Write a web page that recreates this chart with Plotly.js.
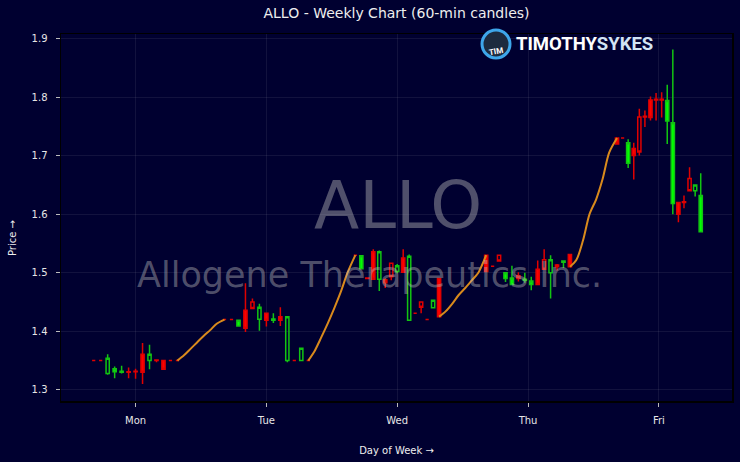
<!DOCTYPE html>
<html><head><meta charset="utf-8">
<script src="https://cdn.plot.ly/plotly-3.0.1.min.js"></script>
<style>html,body{margin:0;padding:0;background:#000030;}#chart{width:740px;height:462px;}</style>
</head><body><div id="chart"></div>
<script>
const days = ['Mon', 'Tue', 'Wed', 'Thu', 'Fri'];

const monOpen  = [1.350,1.350,1.328,1.331,1.330,1.331,1.332,1.361,1.350,1.351,1.350,1.350,1.350];
const monHigh  = [1.350,1.350,1.361,1.340,1.341,1.338,1.336,1.380,1.377,1.351,1.350,1.350,1.350];
const monLow   = [1.350,1.350,1.326,1.320,1.328,1.320,1.319,1.310,1.335,1.347,1.335,1.350,1.350];
const monClose = [1.350,1.350,1.354,1.336,1.332,1.330,1.331,1.330,1.361,1.350,1.335,1.350,1.350];

const tueOpen  = [1.420,1.420,1.409,1.436,1.450,1.4205,1.431,1.419,1.425,1.350,1.350,1.350,1.350];
const tueHigh  = [1.420,1.420,1.420,1.482,1.456,1.447,1.431,1.431,1.441,1.425,1.350,1.371,1.350];
const tueLow   = [1.420,1.420,1.409,1.399,1.439,1.401,1.408,1.414,1.409,1.347,1.350,1.350,1.350];
const tueClose = [1.420,1.420,1.419,1.405,1.439,1.441,1.419,1.421,1.419,1.425,1.350,1.371,1.350];

const wedOpen  = [1.530,1.507,1.491,1.536,1.489,1.488,1.516,1.502,1.525,1.419,1.431,1.450,1.420,1.440,1.490];
const wedHigh  = [1.530,1.530,1.491,1.540,1.538,1.490,1.516,1.515,1.540,1.531,1.431,1.450,1.420,1.453,1.490];
const wedLow   = [1.530,1.507,1.489,1.489,1.469,1.474,1.487,1.499,1.501,1.419,1.431,1.431,1.420,1.440,1.425];
const wedClose = [1.530,1.529,1.490,1.489,1.536,1.483,1.493,1.512,1.501,1.528,1.431,1.441,1.420,1.453,1.425];

const thuOpen  = [1.530,1.511,1.530,1.490,1.480,1.495,1.487,1.480,1.506,1.522,1.500,1.513,1.518,1.531];
const thuHigh  = [1.530,1.511,1.530,1.501,1.512,1.501,1.500,1.493,1.521,1.540,1.530,1.515,1.521,1.531];
const thuLow   = [1.502,1.511,1.520,1.484,1.479,1.485,1.483,1.470,1.480,1.506,1.456,1.504,1.508,1.510];
const thuClose = [1.502,1.511,1.520,1.500,1.491,1.490,1.489,1.486,1.480,1.506,1.522,1.510,1.520,1.510];

const friOpen  = [1.730,1.730,1.687,1.712,1.766,1.767,1.795,1.796,1.796,1.759,1.618,1.620,1.621,1.661,1.640,1.570];
const friHigh  = [1.730,1.730,1.728,1.722,1.780,1.777,1.801,1.807,1.808,1.821,1.881,1.620,1.632,1.680,1.650,1.670];
const friLow   = [1.720,1.730,1.679,1.659,1.700,1.749,1.760,1.760,1.765,1.720,1.600,1.586,1.610,1.640,1.630,1.570];
const friClose = [1.720,1.730,1.722,1.700,1.706,1.766,1.765,1.795,1.795,1.794,1.756,1.600,1.620,1.640,1.650,1.632];

// overnight (off-session) path, day-fraction offsets from each day tick
const overnightX = [0.32, 0.37, 0.42, 0.47, 0.52, 0.57, 0.62, 0.68];
const overnightMonTue = [1.350, 1.359, 1.370, 1.381, 1.392, 1.402, 1.413, 1.420];
const overnightTueWed = [1.350, 1.367, 1.390, 1.414, 1.440, 1.468, 1.500, 1.530];
const overnightWedThu = [1.425, 1.434, 1.447, 1.462, 1.474, 1.487, 1.500, 1.530];
const overnightThuFri = [1.510, 1.522, 1.555, 1.600, 1.625, 1.660, 1.705, 1.730];

const sessions = [
  [monOpen, monHigh, monLow, monClose],
  [tueOpen, tueHigh, tueLow, tueClose],
  [wedOpen, wedHigh, wedLow, wedClose],
  [thuOpen, thuHigh, thuLow, thuClose],
  [friOpen, friHigh, friLow, friClose]
];
const overnights = [overnightMonTue, overnightTueWed, overnightWedThu, overnightThuFri];

// groups: green/red by close vs open, hollow/filled by close vs previous close
const groups = {gh: mk(), gf: mk(), rh: mk(), rf: mk()};
function mk() { return {x: [], o: [], h: [], l: [], c: []}; }
sessions.forEach((s, d) => {
  const [O, H, L, C] = s;
  const n = O.length;
  for (let i = 0; i < n; i++) {
    const x = d - 0.32 + 0.64 * i / (n - 1);
    let prev;
    if (i > 0) prev = C[i - 1];
    else if (d > 0) prev = overnights[d - 1][overnights[d - 1].length - 1];
    else prev = O[i];
    const col = C[i] > O[i] ? 'g' : 'r';
    const fill = C[i] > prev ? 'h' : 'f';
    const g = groups[col + fill];
    g.x.push(x); g.o.push(O[i]); g.h.push(H[i]); g.l.push(L[i]); g.c.push(C[i]);
  }
});

const GREEN_LINE = '#12c412', GREEN_FILL = '#00ff00';
const RED_LINE = '#e00000', RED_FILL = '#ff0000';
const NONE = 'rgba(0,0,0,0)';

const traces = [];
overnights.forEach((ov, d) => {
  traces.push({
    type: 'scatter', mode: 'lines',
    x: overnightX.map(v => d + v), y: ov,
    line: {color: '#d98a1c', width: 2, shape: 'spline', smoothing: 0.8},
    hoverinfo: 'skip', showlegend: false
  });
});
function cs(g, line, fill) {
  return {
    type: 'candlestick', x: g.x, open: g.o, high: g.h, low: g.l, close: g.c,
    increasing: {line: {color: line, width: 1.5}, fillcolor: fill},
    decreasing: {line: {color: line, width: 1.5}, fillcolor: fill},
    whiskerwidth: 0, hoverinfo: 'skip', showlegend: false
  };
}
traces.push(cs(groups.gh, GREEN_LINE, NONE));
traces.push(cs(groups.gf, GREEN_LINE, GREEN_FILL));
traces.push(cs(groups.rh, RED_LINE, NONE));
traces.push(cs(groups.rf, RED_LINE, RED_FILL));

const BG = '#000030';
const FONT = 'DejaVu Sans, sans-serif';
const WM = 'rgba(190,190,190,0.42)';
const layout = {
  width: 740, height: 462,
  paper_bgcolor: BG, plot_bgcolor: BG,
  margin: {l: 61, r: 8, t: 34, b: 61},
  font: {family: FONT, color: '#e6e6e6', size: 10},
  boxgap: 0.18,
  title: {text: 'ALLO - Weekly Chart (60-min candles)', font: {size: 14, color: '#eeeeee', family: FONT},
          x: 0.5, xref: 'paper', y: 1 - 13/462, yref: 'container', yanchor: 'middle'},
  xaxis: {
    range: [-0.570, 4.559], tickvals: [0, 1, 2, 3, 4], ticktext: days,
    showgrid: true, gridcolor: 'rgba(255,255,255,0.07)', gridwidth: 1,
    ticks: 'outside', ticklen: 4, tickcolor: '#bbbbbb', ticklabelstandoff: 5,
    tickfont: {size: 10, color: '#e6e6e6'},
    showline: true, linecolor: '#000000', linewidth: 1.5, mirror: true, zeroline: false,
    rangeslider: {visible: false},
    title: {text: 'Day of Week →', font: {size: 10, color: '#eeeeee'}, standoff: 22}
  },
  yaxis: {
    range: [1.281, 1.9076], tick0: 1.3, dtick: 0.1, tickformat: '.1f',
    showgrid: true, gridcolor: 'rgba(255,255,255,0.07)', gridwidth: 1,
    ticks: 'outside', ticklen: 4, tickcolor: '#bbbbbb', ticklabelstandoff: 6,
    tickfont: {size: 10, color: '#e6e6e6'},
    showline: true, linecolor: '#000000', linewidth: 1.5, mirror: true, zeroline: false
  },
  shapes: [{
    type: 'circle', xref: 'paper', yref: 'paper', xsizemode: 'pixel', ysizemode: 'pixel',
    xanchor: 0.6483, yanchor: 0.9728, x0: -14, x1: 14, y0: -14, y1: 14,
    line: {color: '#3ea6ea', width: 3}, fillcolor: '#1d2b3f', layer: 'above'
  }],
  annotations: [
    {text: 'Price →', xref: 'paper', yref: 'paper', x: -49/671, y: (401 - 238) / 367, textangle: -90,
     xanchor: 'center', yanchor: 'middle', showarrow: false, font: {family: FONT, size: 10, color: '#eeeeee'}},
    {text: 'ALLO', xref: 'paper', yref: 'paper', x: 0.5016, y: 0.533, showarrow: false,
     font: {family: FONT, size: 66, color: WM}},
    {text: 'Allogene Therapeutics Inc.', xref: 'paper', yref: 'paper', x: 0.46, y: 0.343, showarrow: false,
     font: {family: FONT, size: 35, color: WM}},
    {text: '<b>TIM</b>', xref: 'paper', yref: 'paper', x: 0.6483, y: 0.9728, showarrow: false,
     textangle: -10, font: {family: 'Roboto, sans-serif', size: 8, color: '#ffffff'}},
    {text: '<b>TIMOTHY</b><b><span style="color:#d2e4f4">SYKES</span></b>', xref: 'paper', yref: 'paper',
     x: 0.6745, y: 0.9728, xanchor: 'left', yanchor: 'middle', showarrow: false,
     font: {family: 'Roboto, sans-serif', size: 18.5, color: '#ffffff'}}
  ]
};

Plotly.newPlot('chart', traces, layout, {staticPlot: true, displayModeBar: false});
</script>
</body></html>
